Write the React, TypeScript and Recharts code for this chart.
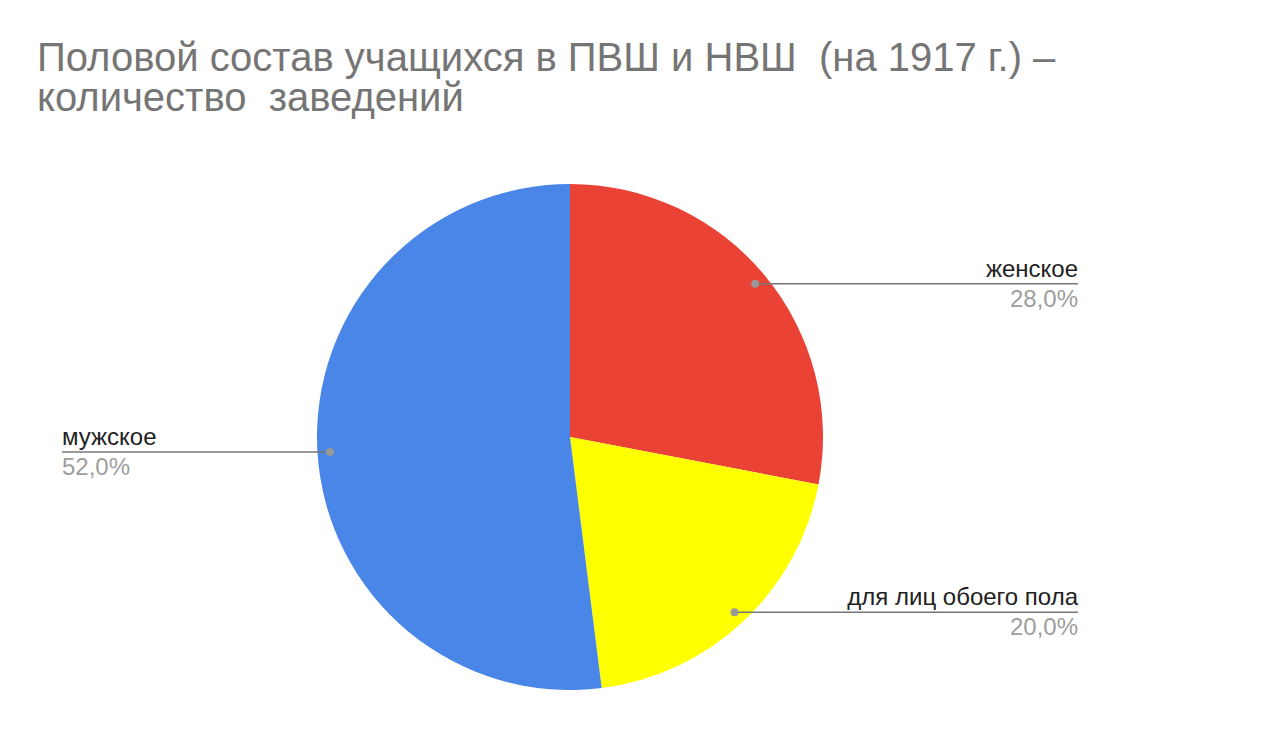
import React from 'react';
import { PieChart, Pie, Cell } from 'recharts';

const categories = ['женское', 'для лиц обоего пола', 'мужское'];
const shares = [28, 20, 52];
const colors = ['#EA4335', '#FFFF00', '#4A86E8'];
const titleLines = ['Половой состав учащихся в ПВШ и НВШ  (на 1917 г.) –', 'количество  заведений'];

const data = categories.map((name, i) => ({ name, value: shares[i] }));

const W = 1278;
const H = 742;
const RAD = Math.PI / 180;
const FONT = '"Liberation Sans", Arial, sans-serif';

// Google-style labels: dot inside the slice, leader line out to the chart edge
const renderLabel = (props: any) => {
  const { cx, cy, outerRadius, startAngle, endAngle, midAngle, percent, name } = props;
  let angle = midAngle;
  const lo = Math.min(startAngle, endAngle);
  const hi = Math.max(startAngle, endAngle);
  // big slice spanning the left horizontal: pull the anchor towards 180deg
  if (lo <= 180 && hi >= 180 && hi - lo > 180) {
    angle = 180 + (midAngle - 180) / 6;
  }
  const r = outerRadius * 0.95;
  const x = cx + r * Math.cos(-angle * RAD);
  const y = cy + r * Math.sin(-angle * RAD);
  const right = x > cx;
  const edge = right ? 1078 : 62;
  const anchor = right ? 'end' : 'start';
  return (
    <g>
      <line x1={x} y1={y} x2={edge} y2={y} stroke="#777" strokeWidth={1.5} />
      <circle cx={x} cy={y} r={4} fill="#999" />
      <text x={edge} y={y - 7} textAnchor={anchor} fill="#222" fontSize={24} fontFamily={FONT}>
        {name}
      </text>
      <text x={edge} y={y + 23} textAnchor={anchor} fill="#9e9e9e" fontSize={24} fontFamily={FONT}>
        {(percent * 100).toFixed(1).replace('.', ',')}%
      </text>
    </g>
  );
};

export default function App() {
  return (
    <div style={{ position: 'absolute', left: 0, top: 0, width: W, height: H, background: '#fff' }}>
      <div
        style={{
          position: 'absolute',
          left: 37,
          top: 37,
          fontFamily: FONT,
          fontSize: 40,
          lineHeight: '40px',
          color: '#757575',
          whiteSpace: 'pre',
        }}
      >
        {titleLines.join('\n')}
      </div>
      <PieChart width={W} height={H} margin={{ top: 0, right: 0, bottom: 0, left: 0 }}>
        <Pie
          data={data}
          dataKey="value"
          nameKey="name"
          cx={570}
          cy={437}
          outerRadius={253}
          startAngle={90}
          endAngle={-270}
          stroke="none"
          label={renderLabel}
          labelLine={false}
          isAnimationActive={false}
        >
          {data.map((d, i) => (
            <Cell key={d.name} fill={colors[i]} />
          ))}
        </Pie>
      </PieChart>
    </div>
  );
}
